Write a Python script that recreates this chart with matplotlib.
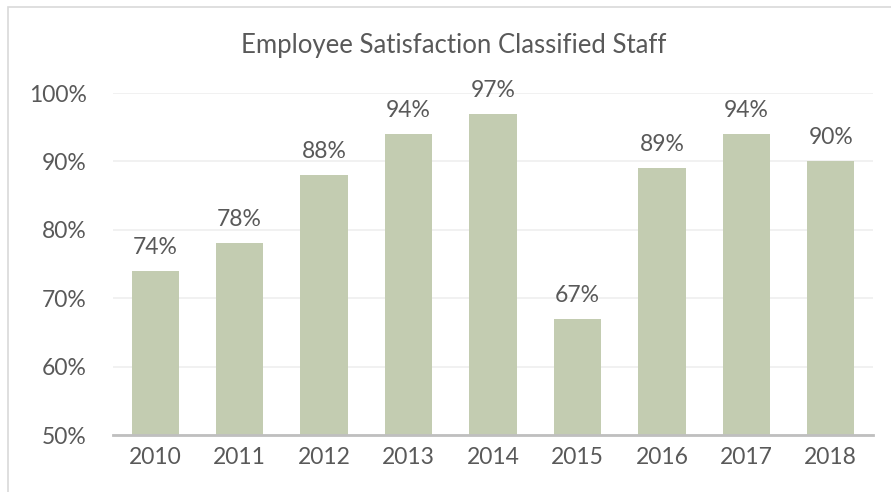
import matplotlib
matplotlib.use('Agg')
import matplotlib.pyplot as plt
from matplotlib.patches import Rectangle

years = ['2010', '2011', '2012', '2013', '2014', '2015', '2016', '2017', '2018']
satisfaction = [74, 78, 88, 94, 97, 67, 89, 94, 90]
yticks = [50, 60, 70, 80, 90, 100]

txt = '#595959'
plt.rcParams['font.family'] = ['Lato', 'DejaVu Sans']

fig = plt.figure(figsize=(8.91, 4.92), dpi=100)
ax = fig.add_axes([113 / 891, 1 - 435 / 492, 760 / 891, (435 - 93) / 492])

# chart border
fig.patches.append(Rectangle((8 / 891, -0.1), 1.1, 1 - 7 / 492 + 0.1, transform=fig.transFigure,
                             fill=False, edgecolor='#d9d9d9', linewidth=1.2))

x = range(len(years))
ax.bar(x, [v - 50 for v in satisfaction], bottom=50, width=0.56, color='#c3ccb1', zorder=2)
for i, v in zip(x, satisfaction):
    ax.text(i, v + 1.9, f'{v}%', ha='center', va='bottom', fontsize=16.5, color=txt)

ax.set_xlim(-0.5, len(years) - 0.5)
ax.set_ylim(50, 100)
ax.set_yticks(yticks)
ax.set_yticklabels([f'{t}%' for t in yticks])
ax.set_xticks(list(x))
ax.set_xticklabels(years)
ax.tick_params(axis='both', length=0, labelsize=16.5, colors=txt)
ax.tick_params(axis='y', pad=19)
ax.tick_params(axis='x', pad=9)
ax.grid(axis='y', color='#efefef', linewidth=1.2, zorder=0)
for s in ['top', 'right', 'left']:
    ax.spines[s].set_visible(False)
ax.spines['bottom'].set_color('#bfbfbf')
ax.spines['bottom'].set_linewidth(2)
ax.spines['bottom'].set_zorder(3)

fig.text(454 / 891, 1 - 45 / 492, 'Employee Satisfaction Classified Staff', ha='center', va='center',
         fontsize=18.5, color=txt)

fig.savefig('out.png', dpi=100)
